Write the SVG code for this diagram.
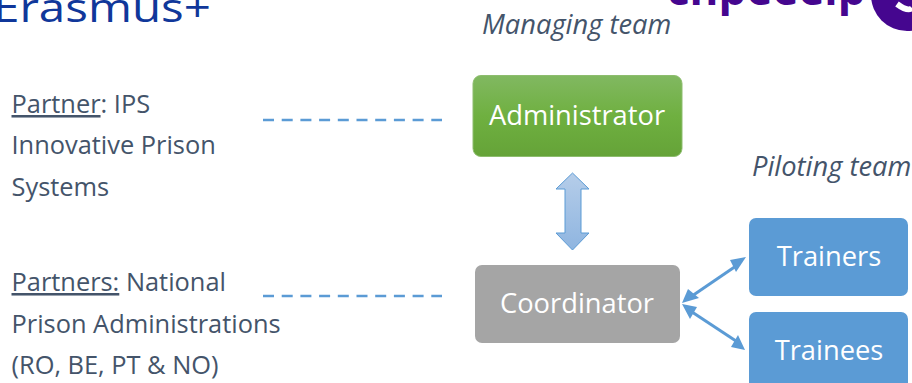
<svg xmlns="http://www.w3.org/2000/svg" width="912" height="383" viewBox="0 0 912 383">
<style>
text{font-family:"Open Sans","Noto Sans","Liberation Sans",sans-serif}
.t{font-size:25.400px;fill:#44546a}
.i{font-size:27.300px;fill:#44546a;font-style:italic}
.n{font-size:27.300px;fill:#fff;text-anchor:middle}
.d{fill:none;stroke:#5b9bd5;stroke-width:2.500;stroke-dasharray:11 7.700}
.c{fill:none;stroke:#5b9bd5;stroke-width:3}
.h{fill:#5b9bd5}
</style>
<defs>
<linearGradient id="g" x1="0" y1="0" x2="0" y2="1"><stop offset="0" stop-color="#81b861"/><stop offset=".5" stop-color="#6fb040"/><stop offset="1" stop-color="#65a338"/></linearGradient>
<linearGradient id="b" x1="0" y1="0" x2="0" y2="1"><stop offset="0" stop-color="#b5cde9"/><stop offset="1" stop-color="#8fb5e0"/></linearGradient>
</defs>
<g id="logo-erasmus"><text transform="translate(-7 21.500) scale(1.160 1)" style="font-size:41px;fill:#10379a">Erasmus+</text></g>
<g id="logo-right"><text x="667" y="5" style="font-size:44px;font-weight:700;fill:#45068f">chpeeeip</text><circle cx="907" cy="-5" r="36" fill="#45068f"/><path d="M897 4Q908 12 912 8" fill="none" stroke="#fff" stroke-width="6"/></g>
<g id="label-managing"><text class="i" x="482" y="34">Managing team</text></g>
<g id="label-piloting"><text class="i" x="752" y="176">Piloting team</text></g>
<g id="partner-ips">
<text class="t" x="11.500" y="113"><tspan text-decoration="underline">Partner</tspan>: IPS</text>
<text class="t" x="11.500" y="154">Innovative Prison</text>
<text class="t" x="11.500" y="196">Systems</text>
</g>
<g id="partner-national">
<text class="t" x="11.500" y="291"><tspan text-decoration="underline">Partners:</tspan> National</text>
<text class="t" x="11.500" y="333">Prison Administrations</text>
<text class="t" x="11.500" y="374">(RO, BE, PT &amp; NO)</text>
</g>
<g id="connectors">
<path class="d" d="M263 120H442"/>
<path class="d" d="M263 296H442"/>
<path d="M572.500 173L589 189H581V233H589L572.500 250L556 233H565V189H556Z" fill="url(#b)" stroke="#5b9bd5" stroke-width="1"/>
<path class="c" d="M692 296L736 266"/>
<path class="h" d="M682 303L688 289L699 298Z"/>
<path class="h" d="M746 257L730 260L736 272Z"/>
<path class="c" d="M692 312L736 341"/>
<path class="h" d="M682 304L697 307L690 319Z"/>
<path class="h" d="M745 350L738 335L731 347Z"/>
</g>
<g id="administrator"><rect x="473" y="75.500" width="209" height="81" rx="8" fill="url(#g)" stroke="#8dbd6e" stroke-width="1"/><text class="n" x="577" y="125">Administrator</text></g>
<g id="coordinator"><rect x="475" y="265" width="205" height="78" rx="7" fill="#a5a5a5"/><text class="n" x="577" y="313">Coordinator</text></g>
<g id="trainers"><rect x="749" y="218" width="159" height="78" rx="7" fill="#5b9bd5"/><text class="n" x="829" y="266">Trainers</text></g>
<g id="trainees"><rect x="749" y="312" width="159" height="78" rx="7" fill="#5b9bd5"/><text class="n" x="829" y="360">Trainees</text></g>
</svg>
